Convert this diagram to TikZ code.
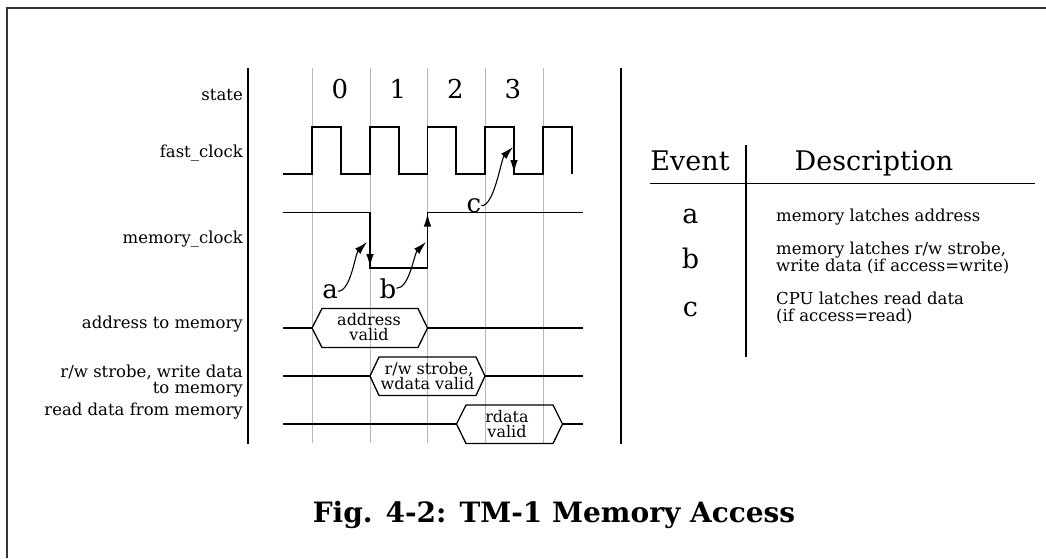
\documentclass[tikz,border=0pt]{standalone}
\usepackage{fontspec}
\setmainfont{DejaVu Serif}
\usetikzlibrary{arrows.meta}
\begin{document}
\begin{tikzpicture}[x=1pt,y=-1pt,
  wave/.style={line width=1.3pt, line join=miter},
  gridln/.style={line width=1pt, draw=black!28},
  heavy/.style={line width=2.8pt},
  frameln/.style={line width=2pt, draw=black!80},
  tip/.style={-{Latex[length=13pt,width=7.5pt]}},
  lbl/.style={inner sep=0pt, anchor=base east, font=\fontsize{16.5}{12}\selectfont},
  bustxt/.style={inner sep=0pt, anchor=base, font=\fontsize{16}{12}\selectfont},
  big/.style={inner sep=0pt, anchor=base, font=\fontsize{26}{30}\selectfont},
  head/.style={inner sep=0pt, anchor=base, font=\fontsize{27}{32}\selectfont},
  desc/.style={inner sep=0pt, anchor=base west, font=\fontsize{16.5}{12}\selectfont},
  titlefont/.style={inner sep=0pt, anchor=base, font=\bfseries\fontsize{28}{34}\selectfont}
]
\useasboundingbox (0,0) rectangle (1046,558);
% frame
\draw[frameln] (1046,8) -- (7,8) -- (7,558);
% grid
\foreach \x in {312,370,427.5,485,543} \draw[gridln] (\x,68) -- (\x,443);
% heavy separators
\draw[heavy] (248,68) -- (248,444);
\draw[heavy] (621,68) -- (621,444);
% left labels
\node[lbl] (lstate) at (243,100) {state};
\node[lbl] (lfast) at (243,157) {fast\_clock};
\node[lbl] (lmem) at (243,243) {memory\_clock};
\node[lbl] (laddr) at (243,328) {address to memory};
\node[lbl] (lrw1) at (243,377.5) {r/w strobe, write data};
\node[lbl] (lrw2) at (243,393) {to memory};
\node[lbl] (lrd) at (243,415) {read data from memory};
% state numbers
\node[big] (s0) at (340,98.3) {0};
\node[big] (s1) at (398,98.3) {1};
\node[big] (s2) at (455.5,98.3) {2};
\node[big] (s3) at (513,98.3) {3};
% fast clock
\draw[wave] (283,174) -- (312,174) -- (312,127) -- (341,127) -- (341,174) -- (370,174)
  -- (370,127) -- (399,127) -- (399,174) -- (427.5,174) -- (427.5,127) -- (456,127)
  -- (456,174) -- (485,174) -- (485,127) -- (514,127) -- (514,174) -- (543,174)
  -- (543,127) -- (572,127) -- (572,174);
\coordinate (fc1) at (514,127);
\coordinate (fc2) at (514,173);
\draw[wave,tip] (fc1) -- (fc2);
% memory clock
\draw[wave] (283,212.5) -- (370,212.5) -- (370,268) -- (427.5,268) -- (427.5,212.5) -- (583,212.5);
\coordinate (mf1) at (370,213);
\coordinate (mf2) at (370,267);
\coordinate (mr1) at (427.5,267);
\coordinate (mr2) at (427.5,213.5);
\draw[wave,tip] (mf1) -- (mf2);
\draw[wave,tip] (mr1) -- (mr2);
% event labels on the diagram
\node[big] (ea) at (330,298) {a};
\node[big] (eb) at (388,298) {b};
\node[big] (ec) at (474,212.5) {c};
\coordinate (ta) at (367,242);
\coordinate (tb) at (426,242);
\coordinate (tc) at (513,147);
\draw[line width=1.1pt,tip] (ea.east) .. controls +(13,0) and +(-12,12) .. (ta);
\draw[line width=1.1pt,tip] (eb.east) .. controls +(13,0) and +(-12,12) .. (tb);
\draw[line width=1.1pt,tip] (ec.east) .. controls +(13,0) and +(-12,12) .. (tc);
% address bus
\draw[wave] (283,328) -- (312,328);
\draw[wave] (312,328) -- (322,308.5) -- (418,308.5) -- (427.5,328) -- (418,347.5) -- (322,347.5) -- cycle;
\draw[wave] (427.5,328) -- (583,328);
\node[bustxt] (ad1) at (369,325.5) {address};
\node[bustxt] (ad2) at (369,340) {valid};
% r/w bus
\draw[wave] (283,376) -- (370,376);
\draw[wave] (370,376) -- (379,357) -- (476,357) -- (485,376) -- (476,395.5) -- (379,395.5) -- cycle;
\draw[wave] (485,376) -- (583,376);
\node[bustxt] (rw1) at (429,374.5) {r/w strobe,};
\node[bustxt] (rw2) at (427.5,389) {wdata valid};
% read data bus
\draw[wave] (283,424) -- (456.5,424);
\draw[wave] (456.5,424) -- (466,405) -- (553,405) -- (562.5,424) -- (553,443.5) -- (466,443.5) -- cycle;
\draw[wave] (562.5,424) -- (583,424);
\node[bustxt] (rd1) at (507,422.5) {rdata};
\node[bustxt] (rd2) at (507,437) {valid};
% table
\draw[line width=1.2pt] (746,145) -- (746,357);
\draw[line width=1.4pt] (650,183.5) -- (1035,183.5);
\node[head] (hev) at (690,170) {Event};
\node[head] (hdesc) at (874,170) {Description};
\node[head] (ta1) at (690.5,223.3) {a};
\node[head] (tb1) at (690.5,268.3) {b};
\node[head] (tc1) at (690.5,316.7) {c};
\node[desc] (da) at (776,221.7) {memory latches address};
\node[desc] (db1) at (776,254) {memory latches r/w strobe,};
\node[desc] (db2) at (776,271) {write data (if access=write)};
\node[desc] (dc1) at (776,304) {CPU latches read data};
\node[desc] (dc2) at (776,321) {(if access=read)};
% title
\node[titlefont] (title) at (554,522) {Fig. 4-2: TM-1 Memory Access};
\end{tikzpicture}
\end{document}
